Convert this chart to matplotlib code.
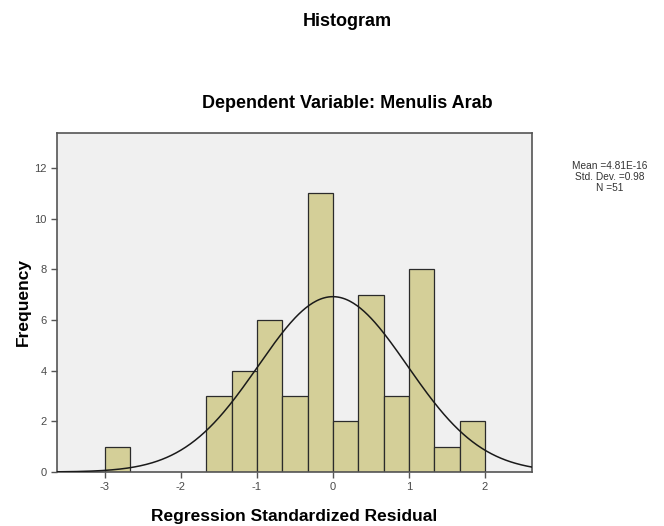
import numpy as np
import matplotlib
matplotlib.use('Agg')
import matplotlib.pyplot as plt

plt.rcParams['font.family'] = ['Liberation Sans', 'DejaVu Sans']
plt.rcParams['axes.unicode_minus'] = False

# 数据：每个柱子的左边界（宽 1/3）与频数
bin_left = [-3.0, -5/3, -4/3, -1.0, -2/3, -1/3, 0.0, 1/3, 2/3, 1.0, 4/3, 5/3]
counts = [1, 3, 4, 6, 3, 11, 2, 7, 3, 8, 1, 2]
bin_width = 1/3

mean = 4.81e-16
std = 0.98
n = 51

x_ticks = [-3, -2, -1, 0, 1, 2]
y_ticks = [0, 2, 4, 6, 8, 10, 12]

fig = plt.figure(figsize=(6.64, 5.26), dpi=100)
ax = fig.add_axes([57/664, 54/526, 475/664, 339/526])
ax.set_facecolor('#f0f0f0')

ax.bar(bin_left, counts, width=bin_width, align='edge', color='#d4cf98',
       edgecolor='#2b2b2b', linewidth=0.9, zorder=2)

# 正态曲线
xs = np.linspace(-3.63, 2.62, 400)
ys = n * bin_width / (std * np.sqrt(2 * np.pi)) * np.exp(-0.5 * ((xs - mean) / std) ** 2)
ax.plot(xs, ys, color='#1a1a1a', linewidth=1.1, zorder=3)

ax.set_xlim(-3.63, 2.62)
ax.set_ylim(0, 13.38)
ax.set_xticks(x_ticks)
ax.set_yticks(y_ticks)
ax.tick_params(direction='out', length=4, width=1, colors='#555555',
               labelcolor='#4a4a4a', labelsize=8)
for s in ax.spines.values():
    s.set_color('#555555')
    s.set_linewidth(1.2)

ax.set_xlabel('Regression Standardized Residual', fontsize=12.5, fontweight='bold', labelpad=12)
ax.set_ylabel('Frequency', fontsize=12.5, fontweight='bold', labelpad=2)

fig.text(347/664, 1 - 22/526, 'Histogram', ha='center', va='center', fontsize=13, fontweight='bold')
fig.text(347/664, 1 - 103/526, 'Dependent Variable: Menulis Arab', ha='center', va='center',
         fontsize=13, fontweight='bold')
fig.text(610/664, 1 - 177/526, 'Mean =4.81E-16\nStd. Dev. =0.98\nN =51', ha='center', va='center',
         fontsize=7.3, color='#333333', linespacing=1.1)

fig.savefig('out.png', dpi=100)
